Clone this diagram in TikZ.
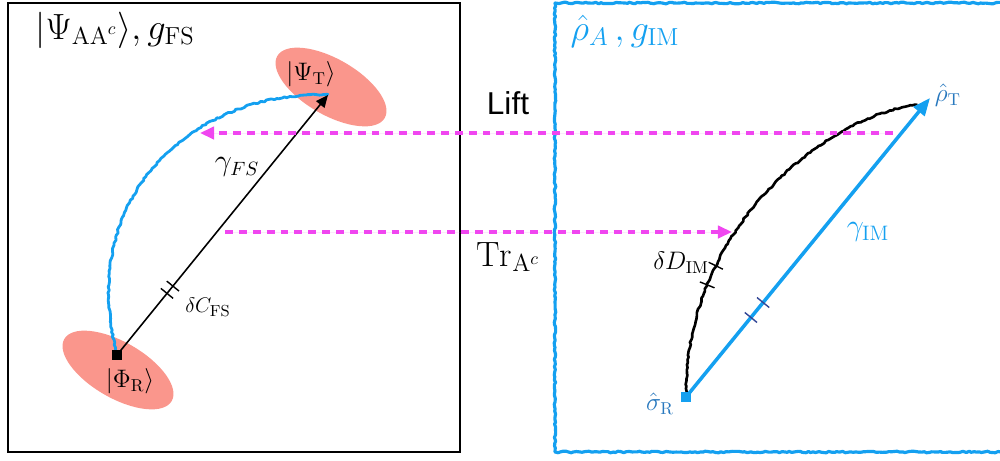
\documentclass[tikz,border=0pt]{standalone}
\usepackage{amsmath}
\usepackage{fontspec}
\newfontfamily\liftfont{Liberation Sans}
\usetikzlibrary{
  shapes.geometric,
  arrows.meta,
  positioning,
  decorations.markings,
  decorations.pathmorphing
}
\definecolor{skyblue}{RGB}{20,160,240}
\definecolor{steelblue}{RGB}{40,120,190}
\definecolor{tickblue}{RGB}{50,70,150}
\definecolor{liftpink}{RGB}{240,70,240}
\definecolor{ketsalmon}{RGB}{250,150,140}
\tikzset{
  ketblob/.style={ellipse,fill=ketsalmon,minimum width=2.48cm,minimum height=1.12cm,rotate=-30,inner sep=0pt},
  bigtitle/.style={inner sep=0pt,font=\fontsize{20}{22}\selectfont},
  ketlbl/.style={inner sep=0pt,font=\fontsize{14}{16}\selectfont},
  smalllbl/.style={inner sep=0pt,font=\fontsize{13}{15}\selectfont},
  rough/.style={decorate,decoration={random steps,segment length=1.5pt,amplitude=0.45pt},line join=round},
  fsframe/.style={draw=black,line width=1.6pt},
  imframe/.style={draw=skyblue,line width=1.8pt,rough},
  fsarr/.style={-{Triangle[length=7pt,width=6pt]},line width=0.9pt},
  imarr/.style={-{Triangle[length=10pt,width=8pt]},draw=skyblue,line width=2pt},
  liftarr/.style={-{Triangle[length=8pt,width=7pt]},draw=liftpink,fill=liftpink,line width=1.8pt,dash pattern=on 4.5pt off 3.4pt},
  tickpair/.style n args={3}{postaction={decorate,decoration={markings,
      mark=at position #1 with {\draw[-,#3,line width=0.8pt,solid] (0,-4.5pt) -- (0,4.5pt);},
      mark=at position #2 with {\draw[-,#3,line width=0.8pt,solid] (0,-4.5pt) -- (0,4.5pt);}}}}
}
\begin{document}
\begin{tikzpicture}[x=0.02cm,y=-0.02cm]
  \useasboundingbox (0,0) rectangle (1000,460);
  % frames
  \draw[fsframe] (8,3) rectangle (460,452);
  \draw[imframe] (1004,3) -- (555,3) -- (555,452) -- (1004,452);
  % states
  \node[ketblob] (blobT) at (331,87) {};
  \node[ketblob] (blobR) at (118,370) {};
  \coordinate (phiR) at (117,355);
  \coordinate (psiT) at (328,95);
  \coordinate (sigR) at (686,397);
  \coordinate (rhoT) at (930,98);
  \coordinate (imend) at (917,105);
  % labels
  \node[bigtitle] (fstitle) at (115,30) {$\lvert\Psi_{\mathrm{AA}^c}\rangle, g_{\mathrm{FS}}$};
  \node[bigtitle,text=skyblue] (imtitle) at (625,31) {$\hat{\rho}_A\,, g_{\mathrm{IM}}$};
  \node[ketlbl] (psiTlbl) at (311,74) {$\lvert\Psi_{\mathrm{T}}\rangle$};
  \node[ketlbl] (phiRlbl) at (130,381) {$\lvert\Phi_{\mathrm{R}}\rangle$};
  \node[inner sep=0pt,font=\fontsize{16}{18}\selectfont] (gfs) at (237,167) {$\gamma_{FS}$};
  \node[smalllbl] (dcfs) at (208,307) {$\delta C_{\mathrm{FS}}$};
  \node[inner sep=0pt,font=\liftfont\fontsize{18}{20}\selectfont] (lift) at (508,103) {Lift};
  \node[inner sep=0pt,font=\fontsize{20}{22}\selectfont] (tr) at (508,257) {$\mathrm{Tr}_{\mathrm{A}^c}$};
  \node[ketlbl,text=steelblue] (rhoTlbl) at (948,95) {$\hat{\rho}_{\mathrm{T}}$};
  \node[ketlbl,text=steelblue] (sigRlbl) at (660,404) {$\hat{\sigma}_{\mathrm{R}}$};
  \node[inner sep=0pt,font=\fontsize{17}{19}\selectfont,text=skyblue] (gim) at (868,232) {$\gamma_{\mathrm{IM}}$};
  \node[ketlbl] (ddim) at (681,263) {$\delta D_{\mathrm{IM}}$};
  % geodesics
  \draw[skyblue,line width=1.6pt,rough] (phiR) .. controls (75,190) and (200,90) .. (psiT);
  \draw[black,line width=1.5pt,rough] (sigR) .. controls (685,220) and (835,113) .. (imend);
  \path[tickpair={0.285}{0.337}{black}] (sigR) .. controls (685,220) and (835,113) .. (imend);
  \draw[fsarr,tickpair={0.237}{0.265}{black}] (phiR) -- (psiT);
  \draw[imarr,tickpair={0.266}{0.316}{tickblue}] (sigR) -- (rhoT);
  \node[fill=black,minimum size=0.2cm,inner sep=0pt] (sqR) at (phiR) {};
  \node[fill=skyblue,minimum size=0.2cm,inner sep=0pt] (sqS) at (sigR) {};
  % maps between the pictures
  \coordinate (liftS) at (893,133);
  \coordinate (liftE) at (200,133);
  \coordinate (trS) at (225,232);
  \coordinate (trE) at (732,232);
  \draw[liftarr] (liftS) -- (liftE);
  \draw[liftarr] (trS) -- (trE);
\end{tikzpicture}
\end{document}
